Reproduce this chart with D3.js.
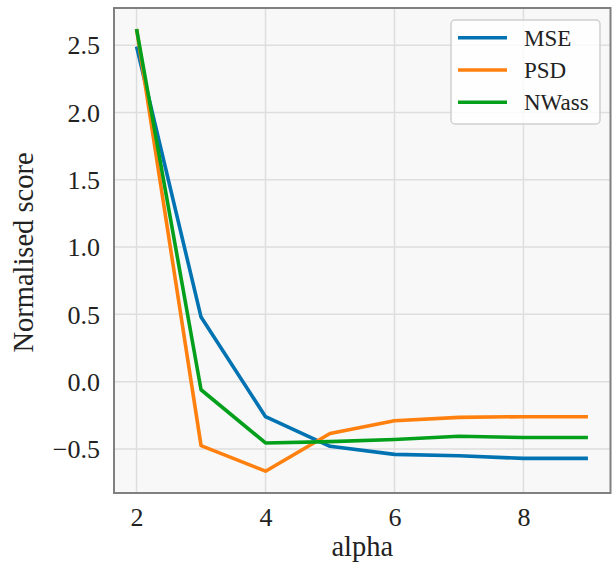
<!DOCTYPE html>
<html>
<head>
<meta charset="utf-8">
<script src="https://cdn.jsdelivr.net/npm/d3@7/dist/d3.min.js"></script>
<style>
  html, body { margin: 0; padding: 0; background: #ffffff; }
  svg { display: block; }
  text { font-family: "Liberation Serif", "DejaVu Serif", serif; fill: #222; }
</style>
</head>
<body>
<svg id="chart" width="612" height="562"></svg>
<script>
// alpha values on the x axis
const alphas = [2, 3, 4, 5, 6, 7, 8, 9];

// normalised scores per metric
const mse   = [2.49, 0.48, -0.26, -0.48, -0.54, -0.55, -0.57, -0.57];
const psd   = [2.62, -0.475, -0.665, -0.385, -0.29, -0.265, -0.26, -0.26];
const nwass = [2.62, -0.06, -0.455, -0.445, -0.43, -0.405, -0.415, -0.415];

const seriesNames  = ["MSE", "PSD", "NWass"];
const seriesColors = ["#0173b2", "#ff800e", "#04a01c"];

const xTicks = [2, 4, 6, 8];
const yTicks = [-0.5, 0.0, 0.5, 1.0, 1.5, 2.0, 2.5];

const svg = d3.select("#chart");
const plot = { left: 114, top: 8, right: 610.5, bottom: 493 };

const x = d3.scaleLinear().domain([1.65, 9.35]).range([plot.left, plot.right]);
const y = d3.scaleLinear().domain([-0.827, 2.776]).range([plot.bottom, plot.top]);

// axes background
svg.append("rect")
  .attr("x", plot.left).attr("y", plot.top)
  .attr("width", plot.right - plot.left).attr("height", plot.bottom - plot.top)
  .attr("fill", "#f8f8f8");

// grid
const grid = svg.append("g").attr("stroke", "#dedede").attr("stroke-width", 1.5);
grid.selectAll("line.v").data(xTicks).join("line")
  .attr("x1", d => x(d)).attr("x2", d => x(d))
  .attr("y1", plot.top).attr("y2", plot.bottom);
grid.selectAll("line.h").data(yTicks).join("line")
  .attr("y1", d => y(d)).attr("y2", d => y(d))
  .attr("x1", plot.left).attr("x2", plot.right);

// lines
const data = [mse, psd, nwass];
const line = d3.line().x((d, i) => x(alphas[i])).y(d => y(d));
svg.append("g").selectAll("path").data(data).join("path")
  .attr("d", line)
  .attr("fill", "none")
  .attr("stroke", (d, i) => seriesColors[i])
  .attr("stroke-width", 3.6)
  .attr("stroke-linejoin", "round");

// frame
svg.append("rect")
  .attr("x", plot.left).attr("y", plot.top)
  .attr("width", plot.right - plot.left).attr("height", plot.bottom - plot.top)
  .attr("fill", "none").attr("stroke", "#808080").attr("stroke-width", 2);

// tick labels via d3 axes (no tick lines or domain)
const fmtY = d => d3.format(".1f")(d).replace("-", "\u2212");
const xAxis = svg.append("g")
  .attr("transform", `translate(0,${plot.bottom})`)
  .call(d3.axisBottom(x).tickValues(xTicks).tickSize(0).tickPadding(33).tickFormat(d3.format("d")));
const yAxis = svg.append("g")
  .attr("transform", `translate(${plot.left},0)`)
  .call(d3.axisLeft(y).tickValues(yTicks).tickSize(0).tickPadding(14).tickFormat(fmtY));
[xAxis, yAxis].forEach(g => {
  g.select(".domain").remove();
  g.selectAll("text").attr("font-size", 26)
    .attr("font-family", "'Liberation Serif', serif").attr("fill", "#262626");
});
xAxis.selectAll("text").attr("dy", 0);
yAxis.selectAll("text").attr("dy", "0.34em");

// axis titles
svg.append("text")
  .attr("x", (plot.left + plot.right) / 2).attr("y", 556)
  .attr("text-anchor", "middle").attr("font-size", 28.5)
  .text("alpha");
svg.append("text")
  .attr("transform", `translate(33,${(plot.top + plot.bottom) / 2 + 2}) rotate(-90)`)
  .attr("text-anchor", "middle").attr("font-size", 28.5)
  .text("Normalised score");

// legend
const legend = svg.append("g");
legend.append("rect")
  .attr("x", 451).attr("y", 20).attr("width", 149).attr("height", 104)
  .attr("rx", 4).attr("fill", "#ffffff").attr("fill-opacity", 0.8)
  .attr("stroke", "#d0d0d0").attr("stroke-width", 1.5);
const items = legend.selectAll("g.item").data(seriesNames).join("g")
  .attr("transform", (d, i) => `translate(0,${37.7 + i * 32.3})`);
items.append("line")
  .attr("x1", 458).attr("x2", 507).attr("y1", 0).attr("y2", 0)
  .attr("stroke", (d, i) => seriesColors[i]).attr("stroke-width", 3.6);
items.append("text")
  .attr("x", 524).attr("y", 0).attr("dy", "0.34em")
  .attr("font-size", 23)
  .text(d => d);
</script>
</body>
</html>
